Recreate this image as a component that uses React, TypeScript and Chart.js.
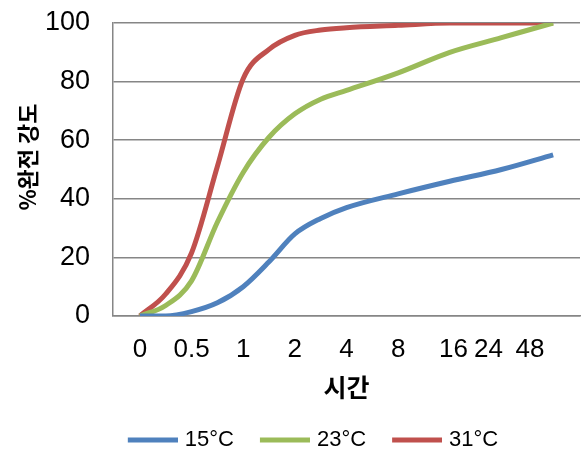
import React, { useEffect, useRef } from "react";
import { Chart, registerables } from "chart.js";

Chart.register(...registerables);

// x positions of sampled points (in axis position units)
const xPositions = [0, 0.5, 1, 1.5, 2, 2.5, 3, 3.5, 4, 5, 6, 7, 8];
const temp15 = [0, 0, 1.5, 4.5, 10, 18.5, 28, 33.3, 37, 41.7, 46, 50, 55];
const temp23 = [0, 3.6, 12, 32, 49, 61, 69, 74, 77, 83, 90, 95, 100];
const temp31 = [0, 7.5, 21.5, 51, 81, 91, 95.8, 97.6, 98.4, 99.2, 100, 100, 100];

const xTickPositions = [0, 1, 2, 3, 4, 5, 6.07, 6.75, 7.55];
const xTickLabels = ["0", "0.5", "1", "2", "4", "8", "16", "24", "48"];

const seriesNames = ["15°C", "23°C", "31°C"];
const seriesColors = ["#4F81BD", "#9BBB59", "#C0504D"];

const FONT = "'Liberation Sans', Arial, 'Noto Sans CJK KR', sans-serif";
const KFONT = "'Noto Sans CJK KR', 'Liberation Sans', sans-serif";

function legendLine(color: string): HTMLCanvasElement {
  const c = document.createElement("canvas");
  c.width = 54;
  c.height = 6;
  const g = c.getContext("2d");
  if (g) {
    g.fillStyle = color;
    g.fillRect(4, 0.5, 50, 5);
  }
  return c;
}

export default function App() {
  const ref = useRef<HTMLCanvasElement | null>(null);

  useEffect(() => {
    if (!ref.current) return;
    const series = [temp15, temp23, temp31];
    const legendShift = {
      id: "legendShift",
      afterLayout(chart: any) {
        const l = chart.legend;
        if (l) {
          l.left += 23;
          l.right += 23;
        }
      },
    };
    const chart = new Chart(ref.current, {
      type: "line",
      data: {
        datasets: series.map((vals, i) => ({
          label: seriesNames[i],
          data: vals.map((v, j) => ({ x: xPositions[j], y: v })),
          borderColor: seriesColors[i],
          backgroundColor: seriesColors[i],
          borderWidth: 5,
          pointRadius: 0,
          pointHoverRadius: 0,
          pointStyle: legendLine(seriesColors[i]) as any,
          cubicInterpolationMode: "monotone" as const,
          fill: false,
        })),
      },
      options: {
        animation: false,
        responsive: true,
        maintainAspectRatio: false,
        layout: { padding: { left: 0, right: 2, top: 23, bottom: -9 } },
        plugins: {
          tooltip: { enabled: false },
          legend: {
            position: "bottom",
            labels: {
              usePointStyle: true,
              pointStyleWidth: 46,
              boxHeight: 5,
              padding: 26,
              color: "#000",
              font: { family: FONT, size: 22 },
            },
          },
        },
        scales: {
          x: {
            type: "linear",
            min: -0.52,
            max: 8.52,
            afterFit(scale: any) {
              scale.height = 87;
            },
            afterBuildTicks(scale: any) {
              scale.ticks = xTickPositions.map((v) => ({ value: v }));
            },
            ticks: {
              autoSkip: false,
              maxRotation: 0,
              padding: 18,
              color: "#000",
              font: { family: FONT, size: 26 },
              callback: (value: any) => {
                const idx = xTickPositions.indexOf(Number(value));
                return idx >= 0 ? xTickLabels[idx] : "";
              },
            },
            grid: { display: false, drawTicks: false },
            border: { display: true, color: "#868686", width: 1.5 },
            title: {
              display: true,
              text: "시간",
              color: "#000",
              font: { family: KFONT, size: 25, weight: "bold" },
              padding: { top: 0, bottom: 1 },
            },
          },
          y: {
            min: 0,
            max: 100,
            afterFit(scale: any) {
              scale.width = 113;
              scale.paddingTop = 0;
              scale.paddingBottom = 0;
            },
            ticks: {
              stepSize: 20,
              padding: 23,
              color: "#000",
              font: { family: FONT, size: 27 },
            },
            grid: { color: "#868686", lineWidth: 1.5, drawTicks: false },
            border: { display: true, color: "#868686", width: 1.5 },
            title: {
              display: true,
              text: "     %완전 강도",
              color: "#000",
              font: { family: KFONT, size: 22, weight: "bold" },
              padding: { top: 14, bottom: 0 },
            },
          },
        },
      },
      plugins: [legendShift],
    });
    return () => chart.destroy();
  }, []);

  return (
    <div style={{ position: "absolute", left: 0, top: 0, width: 582, height: 452 }}>
      <canvas ref={ref} />
    </div>
  );
}
